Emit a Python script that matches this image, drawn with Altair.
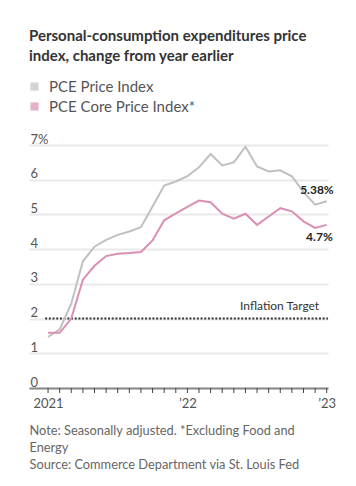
import altair as alt
import pandas as pd

# ---- data ----
months = ["2021-01", "2021-02", "2021-03", "2021-04", "2021-05", "2021-06",
          "2021-07", "2021-08", "2021-09", "2021-10", "2021-11", "2021-12",
          "2022-01", "2022-02", "2022-03", "2022-04", "2022-05", "2022-06",
          "2022-07", "2022-08", "2022-09", "2022-10", "2022-11", "2022-12",
          "2023-01"]
pce = [1.47, 1.69, 2.43, 3.65, 4.07, 4.27, 4.41, 4.51, 4.63, 5.23, 5.83, 5.95,
       6.10, 6.36, 6.74, 6.41, 6.50, 6.95, 6.38, 6.24, 6.27, 6.10, 5.64, 5.28,
       5.38]
core = [1.59, 1.59, 2.00, 3.12, 3.52, 3.80, 3.87, 3.89, 3.92, 4.25, 4.83, 5.03,
        5.22, 5.40, 5.35, 5.02, 4.88, 5.02, 4.70, 4.94, 5.18, 5.09, 4.80, 4.61,
        4.70]
series_names = ["PCE Price Index", "PCE Core Price Index*"]
series_colors = ["#c0c0c0", "#da8fb5"]
end_labels = ["5.38%", "4.7%"]
y_ticks = [0, 1, 2, 3, 4, 5, 6, 7]
x_tick_index = list(range(len(months)))
x_tick_labels = {0: "2021", 12: "\u201922", 24: "\u201923"}
target_value = 2.0
target_label = "Inflation Target"
title_lines = ["Personal-consumption expenditures price",
               "index, change from year earlier"]
note_lines = ["Note: Seasonally adjusted. *Excluding Food and",
              "Energy",
              "Source: Commerce Department via St. Louis Fed"]

# ---- tables ----
rows = []
for name, vals, lab in zip(series_names, [pce, core], end_labels):
    for i, (m, v) in enumerate(zip(months, vals)):
        rows.append({"month": m, "i": i, "series": name, "value": v,
                     "label": lab if i == len(months) - 1 else ""})
df = pd.DataFrame(rows)
tick_df = pd.DataFrame({"i": x_tick_index, "base": [0] * len(x_tick_index)})

x_lo, x_hi = -1.64, 24.11
target_df = pd.DataFrame({"start": [-0.25], "end": [x_hi], "v": [target_value],
                          "lx": [23.35], "text": [target_label]})

label_expr = " : ".join(
    f"datum.value == {k} ? '{v}'" for k, v in x_tick_labels.items()) + " : ''"

xscale = alt.Scale(domain=[x_lo, x_hi], nice=False, zero=False)
yscale = alt.Scale(domain=[0, 7], nice=False, zero=True)
xaxis = alt.Axis(values=x_tick_index, labelExpr=label_expr, grid=False,
                 domainColor="#888888", domainWidth=2, ticks=False, tickSize=0,
                 labelFontSize=13, labelColor="#555555",
                 labelPadding=9, labelOverlap=False, labelFlush=False,
                 title=note_lines, titleAnchor="start", titleAlign="left",
                 titleBaseline="top", titleX=0, titleY=36, titleFontSize=12.8,
                 titleFontWeight="normal", titleColor="#666666", titleLineHeight=17)
yaxis = alt.Axis(values=y_ticks, labelExpr="datum.value == 7 ? '7%' : datum.label",
                 grid=True, gridColor="#e9e9e9", gridWidth=2, domain=False,
                 ticks=False, tickSize=0, labelAlign="left",
                 labelBaseline="alphabetic", labelPadding=-1, labelOffset=-2,
                 labelFontSize=13, labelColor="#555555", title=None)


def X(field):
    return alt.X(field, scale=xscale, axis=xaxis)


def Y(field):
    return alt.Y(field, scale=yscale, axis=yaxis)


base = alt.Chart(df)

lines = base.mark_line(strokeWidth=2).encode(
    x=X("i:Q"), y=Y("value:Q"),
    stroke=alt.Stroke("series:N", scale=alt.Scale(domain=series_names, range=series_colors),
                      legend=None),
    order=alt.Order("i:Q"),
)

legend_layer = base.transform_filter("datum.i == 0").transform_calculate(
    key="datum.series").mark_square(size=0, filled=True).encode(
    x=X("i:Q"), y=Y("value:Q"),
    fill=alt.Fill("key:N", scale=alt.Scale(domain=series_names, range=series_colors),
                  legend=alt.Legend(title=None, orient="none", legendX=-2, legendY=-66,
                                    direction="vertical", symbolType="square",
                                    symbolSize=66, symbolStrokeWidth=0,
                                    labelFontSize=15, labelColor="#555555",
                                    labelOffset=7, rowPadding=4, padding=0)),
)

month_ticks = alt.Chart(tick_df).mark_tick(
    orient="vertical", size=5, thickness=1, yOffset=2.5, color="#444444",
    opacity=1).encode(x=X("i:Q"), y=Y("base:Q"))

rule = alt.Chart(target_df).mark_rule(strokeDash=[2, 1.7], strokeWidth=2,
                                      color="#333333").encode(
    x=X("start:Q"), x2="end:Q", y=Y("v:Q"))

rule_text = alt.Chart(target_df).mark_text(align="right", baseline="bottom", dy=-6,
                                           fontSize=12, color="#333333").encode(
    x=X("lx:Q"), y=Y("v:Q"), text="text:N")

end_top = base.transform_filter(
    f"datum.label != '' && datum.series == '{series_names[0]}'").mark_text(
    align="right", baseline="middle", dx=7, dy=-11, fontSize=12,
    fontWeight="bold", color="#222222").encode(x=X("i:Q"), y=Y("value:Q"), text="label:N")

end_bot = base.transform_filter(
    f"datum.label != '' && datum.series == '{series_names[1]}'").mark_text(
    align="right", baseline="middle", dx=6, dy=12, fontSize=12,
    fontWeight="bold", color="#222222").encode(x=X("i:Q"), y=Y("value:Q"), text="label:N")

chart = alt.layer(rule, month_ticks, lines, legend_layer, rule_text, end_top,
                  end_bot).resolve_scale(
    fill="independent", stroke="independent").properties(
    width=299, height=243,
    title=alt.TitleParams(title_lines, anchor="start", frame="group", fontSize=15,
                          fontWeight="bold", color="#333333", lineHeight=20,
                          offset=15),
    padding={"left": 29, "top": 145, "right": 28, "bottom": 98},
    autosize=alt.AutoSizeParams(type="none"),
).configure(font="Lato").configure_view(strokeWidth=0)

chart.save("out.html", embed_options={"renderer": "svg", "actions": False})
